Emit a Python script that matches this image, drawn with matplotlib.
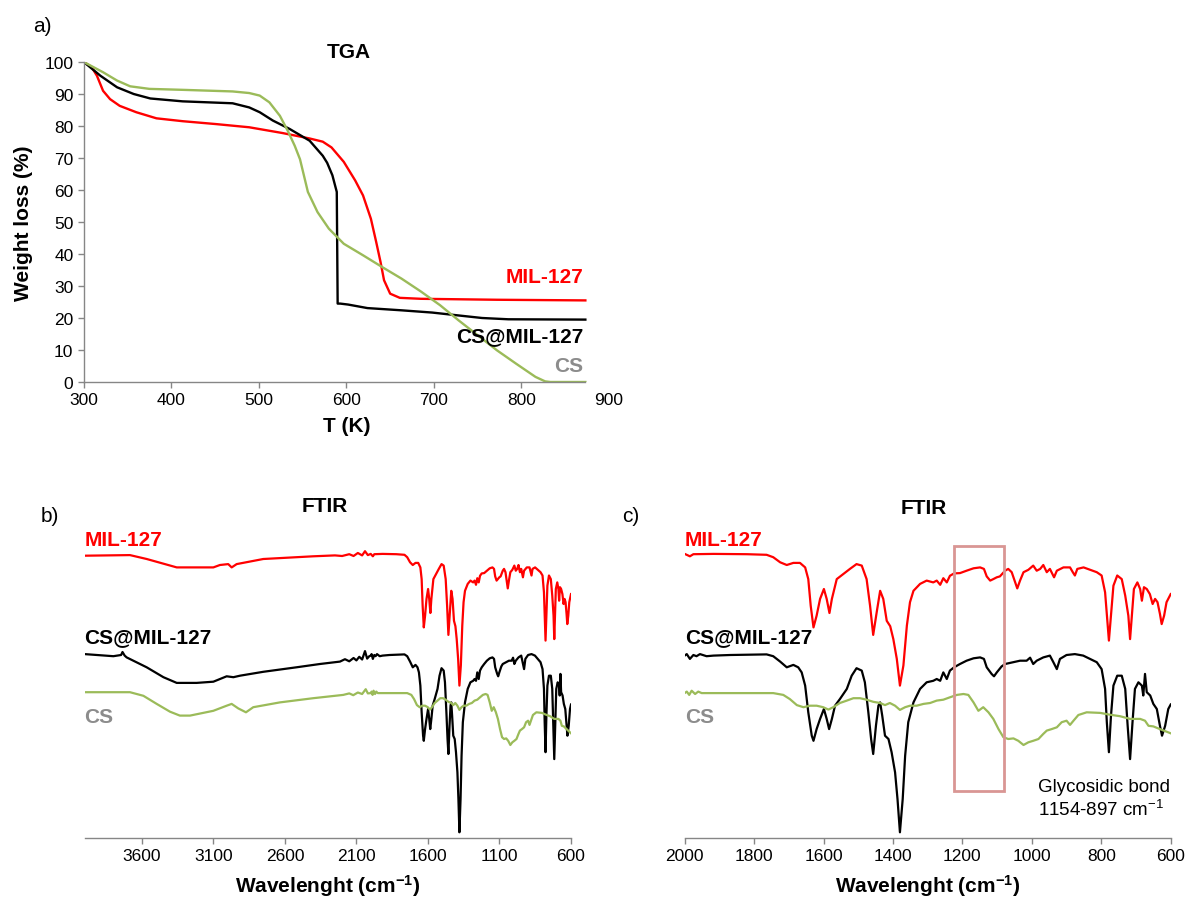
import matplotlib
matplotlib.use('Agg')
import matplotlib.pyplot as plt
from matplotlib.patches import Rectangle

plt.rcParams['font.family'] = ['Liberation Sans', 'DejaVu Sans']
plt.rcParams['mathtext.fontset'] = 'custom'
plt.rcParams['mathtext.rm'] = 'Liberation Sans'
plt.rcParams['mathtext.bf'] = 'Liberation Sans:bold'
plt.rcParams['mathtext.it'] = 'Liberation Sans:italic'

RED = '#FF0000'
BLACK = '#000000'
GREEN = '#9BBB59'
GREY_LBL = '#8C8C8C'
AXIS = '#868686'

# ---- TGA data (T in K, weight %) ----
tga_mil_T = [300, 309, 315, 322, 330, 341, 360, 383, 413, 451, 489, 527, 558, 573, 583, 597,
             610, 619, 628, 634, 639, 643, 650, 661, 685, 772, 873]
tga_mil_W = [100, 98.4, 95.7, 91.0, 88.4, 86.3, 84.3, 82.4, 81.5, 80.6, 79.6, 77.8, 76.1, 75.1, 73.3, 68.8,
             63.0, 58.3, 51.0, 43.8, 37.5, 31.8, 27.6, 26.3, 26.0, 25.7, 25.5]

tga_csmil_T = [300, 319, 338, 357, 376, 413, 470, 489, 501, 516, 535, 558, 573, 578,
               584, 589, 590, 593, 602, 624, 663, 698, 728, 755, 785, 873]
tga_csmil_W = [100, 95.7, 92.1, 90.0, 88.6, 87.7, 87.1, 85.8, 84.3, 81.7, 79.1, 75.4, 70.7, 68.5,
               64.6, 59.4, 24.5, 24.5, 24.2, 23.1, 22.4, 21.7, 20.8, 20.0, 19.6, 19.5]

tga_cs_T = [300, 322, 338, 353, 375, 413, 470, 489, 501, 512, 524, 533, 541, 547, 556, 567, 580, 597,
            619, 641, 663, 685, 707, 728, 750, 772, 794, 816, 827, 833, 873]
tga_cs_W = [100, 96.8, 94.2, 92.4, 91.6, 91.3, 90.8, 90.3, 89.5, 87.4, 83.2, 78.5, 73.8, 69.6, 59.4,
            53.1, 47.9, 43.2, 39.6, 35.9, 32.3, 28.3, 24.0, 19.3, 14.6, 9.9, 5.7, 1.6, 0.2, 0, 0]

# ---- FTIR data (wavenumber cm-1, offset transmittance a.u.) ----
ir_mil_w = [4000, 3683, 3566, 3356, 3100, 3054, 2996, 2972, 2937, 2751, 2402, 2250, 2200, 2150, 2120, 2090,
            2060, 2040, 2020, 2000, 1985, 1975, 1917, 1821, 1764, 1745, 1725, 1706, 1687, 1668, 1653, 1644,
            1637, 1629, 1620, 1610, 1599, 1591, 1583, 1576, 1562, 1543, 1524, 1505, 1490, 1476, 1466, 1457,
            1447, 1437, 1428, 1418, 1408, 1399, 1389, 1380, 1370, 1360, 1351, 1341, 1322, 1303, 1284, 1274,
            1264, 1255, 1245, 1236, 1224, 1207, 1188, 1168, 1149, 1138, 1130, 1120, 1111, 1101, 1092, 1077,
            1068, 1058, 1048, 1042, 1034, 1024, 1010, 996, 986, 976, 967, 957, 948, 936, 928, 909, 890, 882,
            876, 869, 851, 813, 799, 789, 782, 778, 773, 765, 754, 741, 731, 722, 717, 711, 706, 696, 688,
            683, 677, 669, 660, 652, 645, 638, 631, 626, 619, 612, 602, 600]
ir_mil_v = [94.1, 94.3, 93.0, 90.2, 90.2, 91.0, 91.3, 90.2, 91.3, 93.0, 93.9, 94.2, 94.0, 94.6, 94.0, 95.0,
            94.2, 95.6, 94.3, 94.7, 93.9, 94.6, 94.7, 94.6, 94.4, 93.6, 91.9, 91.0, 91.7, 91.7, 90.2, 86.3,
            77.4, 70.2, 74.1, 79.7, 83.0, 79.7, 75.0, 79.7, 86.3, 88.0, 89.7, 91.3, 90.8, 86.3, 77.4, 67.7,
            75.2, 82.4, 79.7, 72.4, 70.6, 66.3, 59.7, 50.8, 57.5, 70.8, 78.6, 82.4, 84.7, 85.8, 85.2, 85.8,
            84.4, 86.6, 85.2, 87.4, 88.2, 88.3, 89.1, 89.9, 90.2, 89.7, 87.2, 85.8, 86.3, 86.9, 87.2, 89.1,
            89.7, 88.6, 85.2, 83.2, 85.8, 88.6, 89.4, 90.8, 89.1, 89.7, 91.0, 88.6, 89.7, 86.9, 89.1, 90.2,
            90.2, 88.6, 87.5, 89.7, 90.2, 88.6, 87.5, 81.9, 71.9, 65.8, 73.0, 84.1, 87.5, 86.3, 80.8, 74.1,
            66.3, 75.2, 83.0, 85.2, 83.0, 79.1, 83.6, 83.0, 81.3, 78.0, 79.7, 78.6, 74.7, 71.3, 74.1, 78.6,
            80.8, 81.3]

ir_csmil_w = [4000, 3799, 3745, 3735, 3720, 3706, 3659, 3566, 3449, 3356, 3217, 3100, 3007, 2960, 2914, 2751,
              2519, 2355, 2250, 2215, 2180, 2150, 2120, 2100, 2080, 2060, 2040, 2025, 2010, 2000, 1994, 1985,
              1975, 1966, 1956, 1937, 1917, 1869, 1821, 1764, 1745, 1725, 1706, 1687, 1673, 1663, 1653, 1644,
              1634, 1629, 1620, 1610, 1599, 1591, 1584, 1576, 1567, 1553, 1533, 1519, 1505, 1490, 1481, 1471,
              1463, 1457, 1449, 1442, 1437, 1431, 1423, 1413, 1404, 1394, 1387, 1380, 1372, 1365, 1356, 1341,
              1322, 1303, 1284, 1274, 1264, 1255, 1245, 1236, 1224, 1207, 1188, 1168, 1149, 1138, 1130, 1116,
              1109, 1101, 1087, 1077, 1053, 1034, 1015, 1005, 996, 986, 967, 948, 938, 928, 919, 900, 876, 852,
              813, 799, 789, 784, 778, 772, 765, 754, 741, 731, 724, 717, 710, 703, 693, 683, 679, 674, 669,
              659, 650, 640, 631, 625, 616, 607, 600]
ir_csmil_v = [61.3, 60.6, 61.0, 62.0, 60.8, 60.2, 59.1, 56.9, 53.6, 51.7, 51.7, 52.1, 53.9, 53.6, 54.1, 55.4,
              56.9, 58.0, 58.6, 58.8, 59.6, 58.9, 60.0, 59.2, 60.4, 59.5, 62.3, 59.8, 60.6, 60.8, 61.3, 59.7,
              61.0, 60.6, 61.3, 60.6, 60.8, 61.0, 61.1, 61.2, 60.6, 58.8, 56.9, 57.7, 56.9, 55.2, 50.8, 41.9,
              34.1, 32.4, 36.3, 39.7, 43.0, 39.7, 36.3, 39.7, 44.1, 46.3, 49.7, 54.1, 56.6, 55.8, 51.9, 41.9,
              33.0, 28.0, 37.5, 44.1, 45.2, 40.8, 34.1, 33.0, 28.6, 21.9, 13.0, 1.9, 13.0, 27.4, 38.6, 45.2,
              49.7, 51.9, 52.4, 53.0, 52.4, 55.2, 53.0, 55.8, 56.9, 58.0, 59.1, 59.9, 60.2, 59.7, 56.9, 54.7,
              53.9, 55.2, 57.2, 58.0, 58.6, 59.1, 59.1, 60.1, 58.0, 59.1, 60.2, 60.8, 58.6, 56.3, 59.7, 61.0,
              61.3, 60.8, 58.6, 56.3, 49.7, 38.6, 28.6, 40.8, 50.8, 54.1, 54.1, 49.7, 37.4, 26.3, 38.6, 49.7,
              51.9, 50.8, 47.5, 54.7, 48.6, 47.5, 44.7, 43.0, 37.4, 34.1, 37.4, 43.0, 44.5]

ir_cs_w = [4000, 3683, 3589, 3496, 3403, 3334, 3263, 3100, 3007, 2972, 2926, 2872, 2821, 2635, 2402, 2192,
           2150, 2122, 2090, 2060, 2035, 2020, 2000, 1994, 1987, 1980, 1970, 1961, 1951, 1917, 1821, 1745,
           1716, 1697, 1677, 1658, 1639, 1620, 1601, 1586, 1572, 1553, 1533, 1514, 1495, 1476, 1457, 1437,
           1423, 1409, 1394, 1380, 1365, 1351, 1332, 1312, 1293, 1274, 1255, 1236, 1216, 1197, 1183, 1168,
           1154, 1140, 1125, 1111, 1096, 1082, 1068, 1053, 1039, 1024, 1010, 996, 981, 967, 957, 943, 928,
           914, 900, 890, 880, 866, 842, 803, 775, 746, 717, 688, 674, 664, 650, 631, 611, 600]
ir_cs_v = [48.6, 48.6, 47.4, 44.7, 42.1, 40.8, 40.8, 42.4, 44.1, 44.7, 43.2, 41.9, 43.6, 45.2, 46.6, 47.7,
           48.2, 47.6, 48.5, 48.0, 49.6, 48.2, 48.3, 48.8, 47.7, 49.1, 48.0, 48.8, 48.3, 48.3, 48.3, 48.3,
           47.7, 46.3, 44.3, 43.6, 44.1, 44.1, 43.6, 42.8, 43.6, 45.0, 45.8, 46.6, 46.6, 46.1, 45.4, 45.0,
           44.3, 45.0, 44.1, 42.7, 43.6, 44.1, 44.1, 44.7, 45.0, 45.8, 46.1, 46.9, 47.7, 48.0, 47.7, 45.2,
           42.4, 43.6, 41.9, 39.7, 36.3, 33.6, 33.0, 33.2, 32.4, 31.0, 31.9, 32.4, 33.0, 34.7, 35.8, 36.3,
           36.9, 38.6, 39.1, 37.7, 39.1, 41.0, 41.9, 41.7, 41.1, 40.6, 39.7, 39.7, 39.1, 37.4, 37.2, 36.3,
           35.4, 34.9]

labels = ['MIL-127', 'CS@MIL-127', 'CS']
label_colors = [RED, BLACK, GREY_LBL]

W, H = 1188, 904
fig = plt.figure(figsize=(W / 100, H / 100), dpi=100)


def px(x, y):
    return x / W, 1 - y / H


def style_axis(ax):
    for s in ['top', 'right']:
        ax.spines[s].set_visible(False)
    for s in ['left', 'bottom']:
        ax.spines[s].set_color(AXIS)
        ax.spines[s].set_linewidth(1.0)
    ax.tick_params(direction='out', length=4, width=1.0, color=AXIS, labelsize=12.5, labelcolor='black')


# ---- a) TGA ----
ax_a = fig.add_axes([83.8 / W, 1 - 383 / H, 525.2 / W, 320 / H])
ax_a.plot(tga_mil_T, tga_mil_W, color=RED, lw=1.7)
ax_a.plot(tga_csmil_T, tga_csmil_W, color=BLACK, lw=1.7)
ax_a.plot(tga_cs_T, tga_cs_W, color=GREEN, lw=1.7)
ax_a.set_xlim(300, 900)
ax_a.set_ylim(0, 100)
ax_a.set_xticks(range(300, 901, 100))
ax_a.set_yticks(range(0, 101, 10))
style_axis(ax_a)
ax_a.spines['bottom'].set_bounds(300, 873)
ax_a.xaxis.get_major_ticks()[-1].tick1line.set_visible(False)
ax_a.set_xlabel('T (K)', fontsize=15, fontweight='bold', labelpad=6)
ax_a.set_ylabel('Weight loss (%)', fontsize=15, fontweight='bold', labelpad=8)
for lab, col, yv in zip(labels, label_colors, [33.1, 14.4, 5.0]):
    ax_a.text(871, yv, lab, color=col, fontsize=15, fontweight='bold', ha='right', va='center')

fig.text(*px(349, 52), 'TGA', fontsize=15, fontweight='bold', ha='center', va='center')
fig.text(*px(33, 27), 'a)', fontsize=15, ha='left', va='center')


# ---- b), c) FTIR ----
def ftir(ax, xmin, xmax, ticks):
    ax.plot(ir_mil_w, ir_mil_v, color=RED, lw=1.6)
    ax.plot(ir_csmil_w, ir_csmil_v, color=BLACK, lw=1.6)
    ax.plot(ir_cs_w, ir_cs_v, color=GREEN, lw=1.6)
    ax.set_xlim(xmin, xmax)
    ax.set_ylim(0, 100)
    ax.set_xticks(ticks)
    style_axis(ax)
    ax.spines['left'].set_visible(False)
    ax.set_yticks([])
    ax.set_xlabel(r'Wavelenght (cm$^{\mathbf{-1}}$)', fontsize=15, fontweight='bold', labelpad=6)
    for lab, col, yv in zip(labels, label_colors, [99.5, 67.3, 40.5]):
        ax.text(xmin, yv, lab, color=col, fontsize=15, fontweight='bold', ha='left', va='center',
                clip_on=False)


ax_b = fig.add_axes([84.6 / W, 1 - 839 / H, 486.4 / W, 300 / H])
ftir(ax_b, 4000, 600, [3600, 3100, 2600, 2100, 1600, 1100, 600])
fig.text(*px(325, 507), 'FTIR', fontsize=15, fontweight='bold', ha='center', va='center')
fig.text(*px(41, 517), 'b)', fontsize=15, ha='left', va='center')

ax_c = fig.add_axes([684.7 / W, 1 - 839 / H, 486.0 / W, 300 / H])
ftir(ax_c, 2000, 600, list(range(2000, 599, -200)))
ax_c.add_patch(Rectangle((1079, 15.7), 145, 81.6, fill=False, edgecolor='#D99694', lw=2.0, zorder=5))
ax_c.text(982, 17.3, 'Glycosidic bond', fontsize=13.5, ha='left', va='center')
ax_c.text(982, 9.7, r'1154-897 cm$^{-1}$', fontsize=13.5, ha='left', va='center')
fig.text(*px(924, 508), 'FTIR', fontsize=15, fontweight='bold', ha='center', va='center')
fig.text(*px(622, 517), 'c)', fontsize=15, ha='left', va='center')

fig.savefig('out.png', dpi=100)
